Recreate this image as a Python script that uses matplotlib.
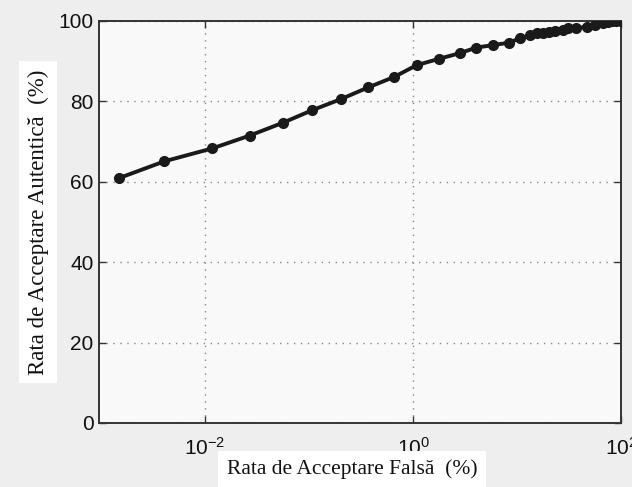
import matplotlib
matplotlib.use("Agg")
import matplotlib.pyplot as plt
from matplotlib.ticker import FixedLocator, NullLocator

# False acceptance rate (%) and genuine acceptance rate (%) of the ROC curve
far = [0.00148, 0.00407, 0.0117, 0.0269, 0.0562, 0.107, 0.204, 0.372, 0.661,
       1.08, 1.78, 2.82, 4.07, 5.89, 8.32, 10.7, 13.3, 15.5, 17.8, 20.4, 23.4,
       27.5, 30.9, 37.2, 46.8, 56.2, 67.6, 75.0, 82.0, 90.0, 100.0]
gar = [60.9, 65.1, 68.3, 71.5, 74.7, 77.8, 80.6, 83.5, 86.1,
       89.0, 90.6, 92.0, 93.4, 94.0, 94.6, 95.7, 96.4, 96.9, 97.1, 97.3, 97.5,
       97.7, 98.2, 98.3, 98.5, 99.0, 99.6, 99.8, 99.9, 100.0, 100.0]

x_ticks = [1e-2, 1e0, 1e2]
x_tick_labels = [r"$10^{-2}$", r"$10^{0}$", r"$10^{2}$"]
y_ticks = [0, 20, 40, 60, 80, 100]

plt.rcParams["mathtext.fontset"] = "custom"
plt.rcParams["mathtext.rm"] = "Liberation Sans"
plt.rcParams["mathtext.it"] = "Liberation Sans:italic"
plt.rcParams["mathtext.bf"] = "Liberation Sans:bold"

W, H, DPI = 632, 487, 100
fig = plt.figure(figsize=(W / DPI, H / DPI), dpi=DPI, facecolor="#eeeeee")
ax = fig.add_axes([99 / W, 1 - 423 / H, (621 - 99) / W, (423 - 21) / H])
ax.set_facecolor("#f9f9f9")

ax.plot(far, gar, color="#1a1a1a", linewidth=2.8, marker="o",
        markersize=7, markerfacecolor="#1a1a1a", markeredgecolor="#1a1a1a",
        zorder=3)

ax.set_xscale("log")
ax.set_xlim(10 ** -3.02, 100)
ax.set_ylim(0, 100)
ax.xaxis.set_major_locator(FixedLocator(x_ticks))
ax.xaxis.set_minor_locator(NullLocator())
ax.set_xticklabels(x_tick_labels)
ax.set_yticks(y_ticks)

ax.grid(True, which="major", linestyle=(0, (1, 4)), color="#888888",
        linewidth=1.0)
ax.tick_params(direction="in", length=5, width=1.0, top=True, right=True,
               colors="#333333", labelcolor="#111111")
ax.tick_params(axis="y", labelsize=15, pad=4)
ax.tick_params(axis="x", labelsize=15, pad=10)
for lbl in ax.get_xticklabels() + ax.get_yticklabels():
    lbl.set_fontfamily("Liberation Sans")

for side in ax.spines.values():
    side.set_color("#333333")
    side.set_linewidth(1.4)

fig.text(352 / W, 1 - 469 / H, "Rata de Acceptare Falsă  (%)",
         family="Liberation Serif", fontsize=15.5, ha="center", va="center",
         color="#111111",
         bbox=dict(facecolor="white", edgecolor="none", pad=6))
fig.text(38 / W, 1 - 222 / H, "Rata de Acceptare Autentică  (%)",
         family="Liberation Serif", fontsize=16.5, ha="center", va="center",
         rotation=90, color="#111111",
         bbox=dict(facecolor="white", edgecolor="none", pad=6))

fig.savefig("out.png", dpi=DPI, facecolor=fig.get_facecolor())
